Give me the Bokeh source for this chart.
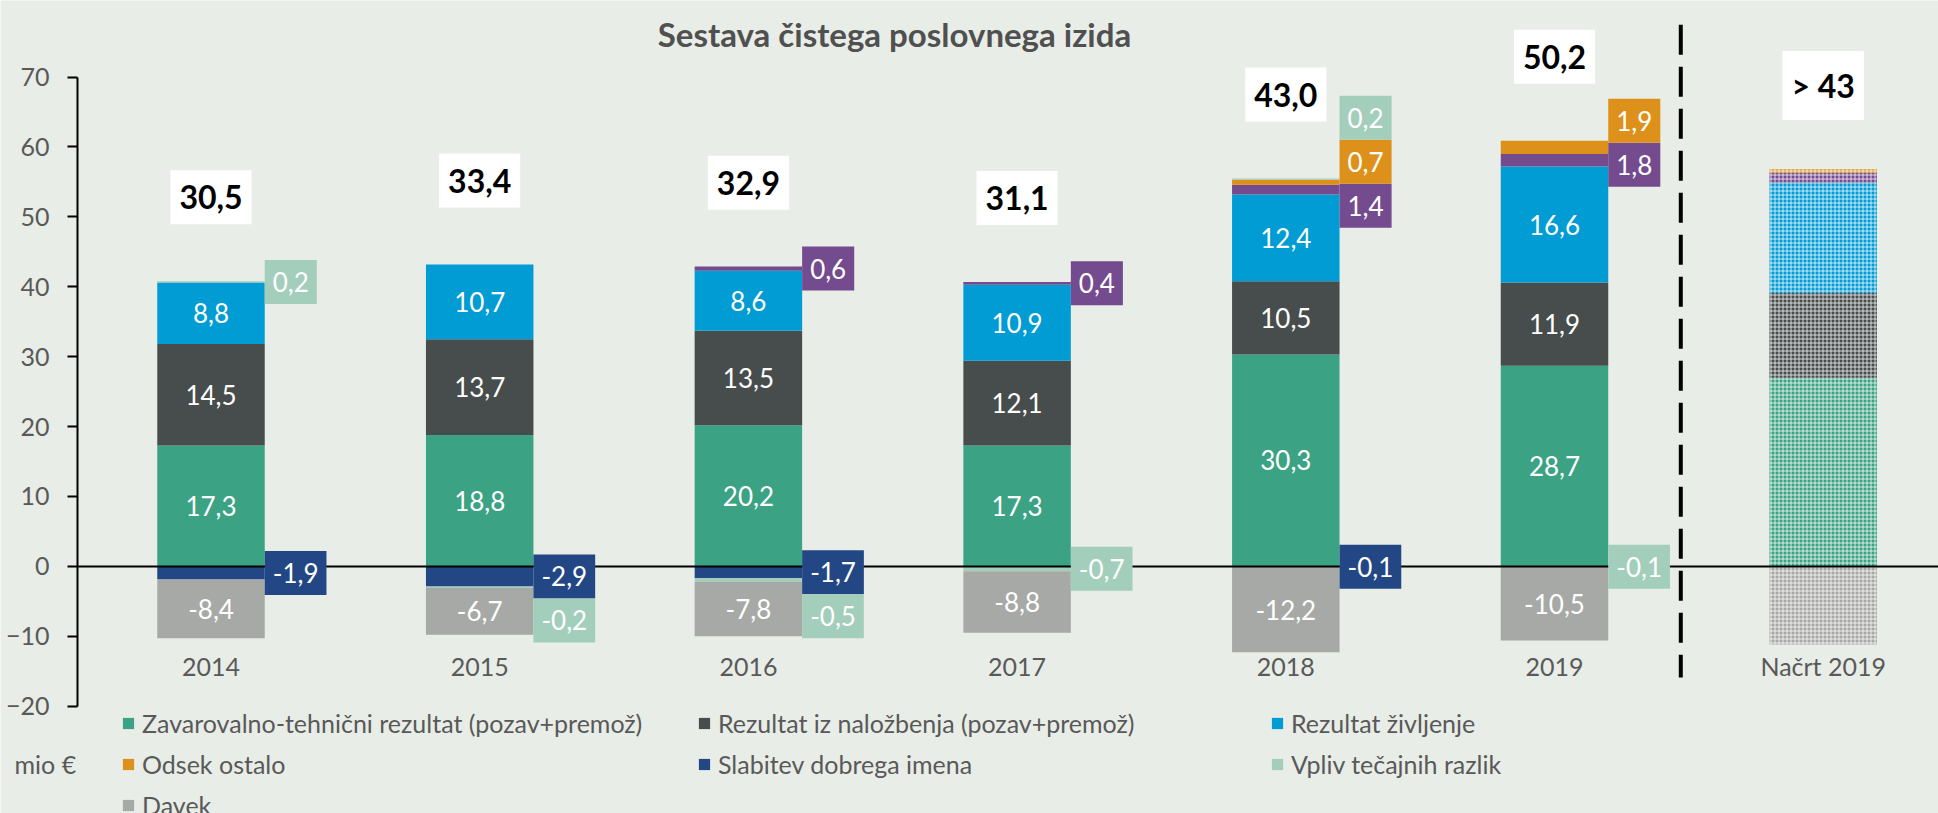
import numpy as np
from bokeh.plotting import figure
from bokeh.models import (ColumnDataSource, LinearAxis, FixedTicker, Range1d,
                          Legend, LegendItem, Label)
from bokeh.core.properties import value
from bokeh.embed import file_html
from bokeh.resources import INLINE

# ---------------- data ----------------
categories = ["2014", "2015", "2016", "2017", "2018", "2019", "Načrt 2019"]
zavarovalno = [17.3, 18.8, 20.2, 17.3, 30.3, 28.7, 27.0]
nalozbenje = [14.5, 13.7, 13.5, 12.1, 10.5, 11.9, 12.1]
zivljenje = [8.8, 10.7, 8.6, 10.9, 12.4, 16.6, 15.8]
drugo = [0.0, 0.0, 0.6, 0.4, 1.4, 1.8, 1.4]
odsek_ostalo = [0.0, 0.0, 0.0, 0.0, 0.7, 1.9, 0.5]
slabitev = [-1.9, -2.9, -1.7, 0.0, -0.1, 0.0, 0.0]
tecajne = [0.2, -0.2, -0.5, -0.7, 0.2, -0.1, 0.0]
davek = [-8.4, -6.7, -7.8, -8.8, -12.2, -10.5, -11.2]
total_labels = ["30,5", "33,4", "32,9", "31,1", "43,0", "50,2", "> 43"]
plan_index = 6

series_names = ["Zavarovalno-tehnični rezultat (pozav+premož)",
                "Rezultat iz naložbenja (pozav+premož)",
                "Rezultat življenje", "Drugo", "Odsek ostalo",
                "Slabitev dobrega imena", "Vpliv tečajnih razlik", "Davek"]
series_values = [zavarovalno, nalozbenje, zivljenje, drugo, odsek_ostalo,
                 slabitev, tecajne, davek]

# ---------------- styles ----------------
colors = ["#3BA283", "#474D4C", "#009CD3", "#744B8E", "#DE911A",
          "#234785", "#A3CEBB", "#A6A9A5"]
side_labelled = [False, False, False, True, True, True, True, False]
BG = "#E8EDE7"
TXT = "#595959"
FONT = "Lato"

# layout (pixels -> data units)
W, H = 1938, 813
PX_X = 268.7          # px per category
PX_Y = 6.989          # px per y unit
X0 = -210.5 / PX_X
Y1 = 70 + 76.6 / PX_Y
x_range = Range1d(X0, X0 + W / PX_X)
y_range = Range1d(Y1 - H / PX_Y, Y1)
Y_AXIS_X = X0 + 77 / PX_X
BAR_W = 0.4
BOX_H = 44 / PX_Y
TOTAL_GAP = 12.0
SEP_X, SEP_TOP, SEP_BOT = 5.47, 77.5, -15.9
XLABEL_LOC = -12.1

p = figure(width=W, height=H, x_range=x_range, y_range=y_range,
           x_axis_type=None, y_axis_type=None, toolbar_location=None,
           output_backend="svg", min_border=0,
           background_fill_color=BG, border_fill_color=BG,
           outline_line_color=None)

# ---------------- stacking ----------------
n = len(categories)
idx = np.arange(n)
pos_base = np.zeros(n)
neg_base = np.zeros(n)
bottoms, tops = [], []
for vals in series_values:
    v = np.array(vals, dtype=float)
    b = np.where(v >= 0, pos_base, neg_base)
    t = b + v
    pos_base = np.where(v >= 0, t, pos_base)
    neg_base = np.where(v < 0, t, neg_base)
    bottoms.append(b)
    tops.append(t)

actual = idx != plan_index
plan = idx == plan_index

renderers = []
for k, vals in enumerate(series_values):
    src = ColumnDataSource(dict(x=idx[actual], top=tops[k][actual],
                                bottom=bottoms[k][actual]))
    r = p.vbar(x="x", top="top", bottom="bottom", width=BAR_W, source=src,
               fill_color=colors[k], line_color=None)
    renderers.append(r)
    psrc = ColumnDataSource(dict(x=idx[plan], top=tops[k][plan],
                                 bottom=bottoms[k][plan]))
    p.vbar(x="x", top="top", bottom="bottom", width=BAR_W, source=psrc,
           fill_color=colors[k], line_color=None, hatch_pattern="cross",
           hatch_color="white", hatch_scale=4, hatch_weight=1, hatch_alpha=0.75)

# zero line (category axis crossing at 0)
zero_axis = LinearAxis(fixed_location=0, bounds=(Y_AXIS_X, x_range.end),
                       ticker=FixedTicker(ticks=[]), axis_line_color="black",
                       axis_line_width=2, major_tick_line_color=None,
                       minor_tick_line_color=None, major_label_text_font_size="0px")
p.add_layout(zero_axis, "below")

# category labels
cat_axis = LinearAxis(fixed_location=XLABEL_LOC,
                      ticker=FixedTicker(ticks=list(range(n))),
                      major_label_overrides={i: c for i, c in enumerate(categories)},
                      axis_line_color=None, major_tick_line_color=None,
                      minor_tick_line_color=None, major_tick_out=0, major_tick_in=0,
                      major_label_standoff=0,
                      major_label_text_font=FONT, major_label_text_font_size="25px",
                      major_label_text_color=TXT)
p.add_layout(cat_axis, "below")

# value axis
y_axis = LinearAxis(fixed_location=Y_AXIS_X, bounds=(-20, 70),
                    ticker=FixedTicker(ticks=list(range(-20, 71, 10))),
                    axis_line_color="black", axis_line_width=2,
                    major_tick_line_color="black", major_tick_line_width=2,
                    major_tick_out=10, major_tick_in=0,
                    minor_tick_line_color=None, major_label_standoff=18,
                    major_label_text_font=FONT, major_label_text_font_size="25px",
                    major_label_text_color=TXT)
p.add_layout(y_axis, "left")

# separator between actual and plan
p.segment(x0=[SEP_X], y0=[SEP_TOP], x1=[SEP_X], y1=[SEP_BOT],
          line_width=4, line_color="black", line_dash="30 12")

def fmt(v):
    return f"{v:.1f}".replace(".", ",")

# inner labels
ix, iy, it = [], [], []
for k, vals in enumerate(series_values):
    if side_labelled[k]:
        continue
    for i in idx[actual]:
        if vals[i] != 0:
            ix.append(i)
            iy.append((bottoms[k][i] + tops[k][i]) / 2)
            it.append(fmt(vals[i]))
r_in = p.text(x=ix, y=iy, text=it, text_align="center", text_baseline="middle",
              text_color="white", text_font=value(FONT), text_font_size="26px")
r_in.level = "annotation"

# side labels: groups of small segments, spread so boxes do not overlap
sx, sy, st, sc = [], [], [], []
for i in idx[actual]:
    for sign in (1, -1):
        group = [(k, (bottoms[k][i] + tops[k][i]) / 2)
                 for k, vals in enumerate(series_values)
                 if side_labelled[k] and vals[i] != 0 and np.sign(vals[i]) == sign]
        m = len(group)
        if m == 0:
            continue
        if m == 1:
            centers = [group[0][1]]
        elif sign > 0:
            mid = np.mean([c for _, c in group]) + (m - 1) * BOX_H / 4
            centers = [mid + (j - (m - 1) / 2) * BOX_H for j in range(m)]
        else:
            centers = [group[0][1] - j * BOX_H for j in range(m)]
        for (k, _), c in zip(group, centers):
            sx.append(i + BAR_W / 2)
            sy.append(c)
            st.append(fmt(series_values[k][i]))
            sc.append(colors[k])
side_src = ColumnDataSource(dict(x=sx, y=sy, text=st, bg=sc))
r_side = p.text(x="x", y="y", text="text", source=side_src, anchor="center_left",
                text_align="left", text_baseline="middle",
                text_color="white", text_font=value(FONT), text_font_size="26px",
                background_fill_color="bg", padding=dict(left=8, right=8, top=12, bottom=12))
r_side.level = "annotation"

# totals
tot_src = ColumnDataSource(dict(x=idx, y=pos_base + TOTAL_GAP, text=total_labels))
r_tot = p.text(x="x", y="y", text="text", source=tot_src, anchor="center",
               text_align="center", text_baseline="middle",
               text_color="black", text_font=value(FONT), text_font_style="bold",
               text_font_size="32px", background_fill_color="white",
               padding=dict(left=9, right=9, top=15, bottom=15))
r_tot.level = "annotation"

# title and unit
p.add_layout(Label(x=894, y=H - 33, x_units="screen", y_units="screen",
                   text="Sestava čistega poslovnega izida", text_align="center",
                   text_baseline="middle", text_font=FONT, text_font_style="bold",
                   text_font_size="33px", text_color="#505050"))
p.add_layout(Label(x=14, y=H - 763, x_units="screen", y_units="screen",
                   text="mio €", text_align="left", text_baseline="middle",
                   text_font=FONT, text_font_size="25px", text_color=TXT))

# legend (3 columns, row-major order as in the reference)
legend_cols = [[0, 4, 7], [1, 5], [2, 6]]
legend_x = [121, 697, 1270]
ITEM_H, GAP, TOP = 30, 11, 708
for col, lx in zip(legend_cols, legend_x):
    items = [LegendItem(label=series_names[k], renderers=[renderers[k]]) for k in col]
    height = len(col) * ITEM_H + (len(col) - 1) * GAP
    lg = Legend(items=items, location=(lx, H - (TOP + height)),
                orientation="vertical", glyph_width=14, glyph_height=14,
                label_standoff=7, spacing=GAP, padding=0, margin=0,
                border_line_color=None, background_fill_alpha=0,
                label_text_font=FONT, label_text_font_size="25px",
                label_text_color=TXT, label_height=ITEM_H)
    p.add_layout(lg)

open("out.html", "w").write(file_html(p, INLINE))
